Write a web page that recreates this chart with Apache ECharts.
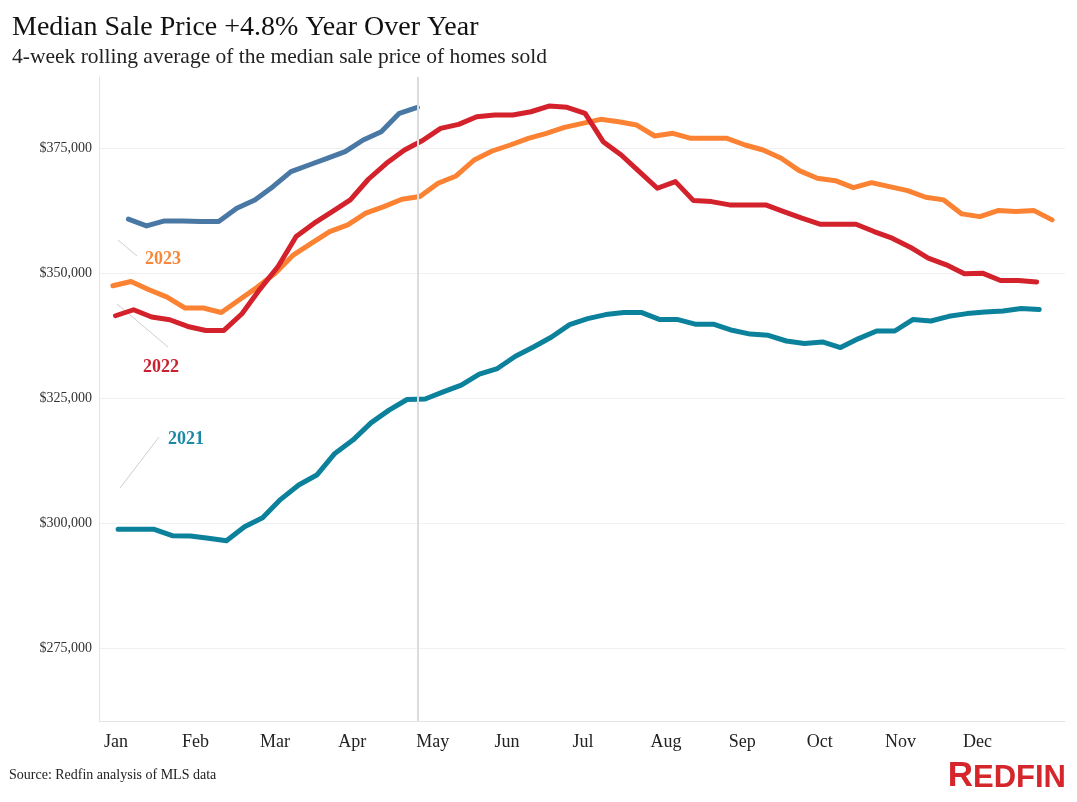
<!DOCTYPE html>
<html>
<head>
<meta charset="utf-8">
<script src="https://cdn.jsdelivr.net/npm/echarts@6/dist/echarts.min.js"></script>
<style>
html,body{margin:0;padding:0;background:#fff;}
#chart{width:1077px;height:802px;}
</style>
</head>
<body>
<div id="chart"></div>
<script>
// Week-ending day-of-year (0 = Jan 1) of the first 4-week window in each year
var firstDay2021 = 2;   // Jan 3, 2021
var firstDay2022 = 1;   // Jan 2, 2022
var firstDay2023 = 0;   // Jan 1, 2023
var firstDay2024 = 6;   // Jan 7, 2024

var values2021 = [298740,298740,298740,297460,297400,296940,296470,299260,301060,304730,
  307590,309590,313920,316580,320030,322570,324700,324800,326220,327560,
  329760,330890,333350,335210,337200,339680,340880,341680,342080,342080,
  340680,340680,339740,339740,338540,337780,337540,336400,335890,336210,
  335090,336880,338400,338400,340680,340400,341340,341880,342200,342400,
  342880,342680];

var values2022 = [341450,342650,341190,340650,339310,338510,338510,341850,346780,351300,
  357290,359960,362280,364620,368750,371940,374600,376500,378930,379730,
  381250,381590,381590,382250,383390,383130,381930,376260,373600,370270,
  366950,368270,364480,364280,363620,363620,363620,362280,360960,359760,
  359760,359760,358290,356960,355170,352970,351640,349840,349970,348500,
  348500,348180];

var values2023 = [347440,348300,346640,345180,342990,342990,342110,344650,347180,349980,
  353630,355970,358290,359620,361960,363280,364760,365300,367950,369410,
  372600,374400,375600,376940,377940,379130,379930,380730,380250,379590,
  377400,377940,376940,376940,376940,375600,374600,372940,370470,368950,
  368470,367070,368070,367270,366470,365150,364620,361820,361280,362480,
  362280,362480,360620];

var values2024 = [360760,359420,360420,360420,360280,360280,362960,364620,367270,370270,
  371600,372940,374260,376600,378260,381930,383130];

var monthLabels = ['Jan','Feb','Mar','Apr','May','Jun','Jul','Aug','Sep','Oct','Nov','Dec'];
var yTicks = [275000, 300000, 325000, 350000, 375000];
var latestDay = firstDay2024 + 7 * (values2024.length - 1);

function toPairs(first, vals) {
  return vals.map(function (v, i) { return [first + 7 * i, v]; });
}
var monthTickPos = monthLabels.map(function (m, i) { return -3.5 + i * 30.27; });

var chart = echarts.init(document.getElementById('chart'), null, {renderer: 'canvas'});
var serif = '"Liberation Serif", "Times New Roman", serif';

function lineSeries(name, data, color) {
  return {
    name: name, type: 'line', data: data, symbol: 'none', smooth: false,
    lineStyle: {color: color, width: 5, join: 'round', cap: 'round'},
    itemStyle: {color: color}, z: 3, animation: false
  };
}

chart.setOption({
  backgroundColor: '#ffffff',
  animation: false,
  grid: {left: 99, right: 12, top: 77, bottom: 81, containLabel: false},
  xAxis: {
    type: 'value', min: -5.4, max: 369,
    axisLine: {show: true, onZero: false, lineStyle: {color: '#e4e4e4', width: 1}},
    axisTick: {show: false},
    splitLine: {show: false},
    axisLabel: {
      customValues: monthTickPos,
      formatter: function (v) {
        var k = monthTickPos.indexOf(v);
        return k >= 0 ? monthLabels[k] : '';
      },
      align: 'left', margin: 12,
      fontFamily: serif, fontSize: 18, color: '#222'
    }
  },
  yAxis: {
    type: 'value', min: 260400, max: 389200,
    axisLine: {show: true, onZero: false, lineStyle: {color: '#e4e4e4', width: 1}},
    axisTick: {show: false, customValues: yTicks},
    splitLine: {show: true, lineStyle: {color: '#f0f0f0', width: 1}},
    axisLabel: {
      customValues: yTicks,
      formatter: function (v) { return '$' + v.toLocaleString('en-US'); },
      fontFamily: serif, fontSize: 14, color: '#333', margin: 7
    }
  },
  series: [
    {
      type: 'line', data: [], z: 1, silent: true,
      markLine: {
        symbol: 'none', silent: true, animation: false,
        label: {show: false},
        lineStyle: {color: '#dcdcdc', width: 2, type: 'solid'},
        data: [{xAxis: latestDay}]
      }
    },
    lineSeries('2021', toPairs(firstDay2021, values2021), '#0b819c'),
    lineSeries('2023', toPairs(firstDay2023, values2023), '#fb8232'),
    lineSeries('2022', toPairs(firstDay2022, values2022), '#d3222b'),
    lineSeries('2024', toPairs(firstDay2024, values2024), '#4a78a5')
  ],
  graphic: [
    {type: 'text', style: {x: 12, y: 28, verticalAlign: 'middle', text: 'Median Sale Price +4.8% Year Over Year', fill: '#111', font: '28px ' + serif}},
    {type: 'text', style: {x: 12, y: 57, verticalAlign: 'middle', text: '4-week rolling average of the median sale price of homes sold', fill: '#222', font: '21.5px ' + serif}},
    {type: 'text', style: {x: 9, y: 775, verticalAlign: 'middle', text: 'Source: Redfin analysis of MLS data', fill: '#222', font: '14px ' + serif}},
    {type: 'line', shape: {x1: 118, y1: 240, x2: 137, y2: 256}, style: {stroke: '#cfcfcf', lineWidth: 1}},
    {type: 'text', style: {x: 145, y: 259, text: '2023', fill: '#f7883a', font: 'bold 18px ' + serif, verticalAlign: 'middle'}},
    {type: 'line', shape: {x1: 117, y1: 304, x2: 168, y2: 347}, style: {stroke: '#cfcfcf', lineWidth: 1}},
    {type: 'text', style: {x: 143, y: 367, text: '2022', fill: '#c9212f', font: 'bold 18px ' + serif, verticalAlign: 'middle'}},
    {type: 'line', shape: {x1: 120, y1: 488, x2: 159, y2: 437}, style: {stroke: '#cfcfcf', lineWidth: 1}},
    {type: 'text', style: {x: 168, y: 439, text: '2021', fill: '#1a89a5', font: 'bold 18px ' + serif, verticalAlign: 'middle'}},
    {type: 'text', style: {
      x: 1066, y: 794, align: 'right', verticalAlign: 'bottom',
      text: '{a|R}{b|EDFIN}',
      rich: {
        a: {fontFamily: '"Liberation Sans", Arial, sans-serif', fontWeight: 'bold', fontSize: 35, fill: '#d5262c', color: '#d5262c', verticalAlign: 'bottom'},
        b: {fontFamily: '"Liberation Sans", Arial, sans-serif', fontWeight: 'bold', fontSize: 31, fill: '#d5262c', color: '#d5262c', verticalAlign: 'bottom'}
      }
    }}
  ]
});
</script>
</body>
</html>
